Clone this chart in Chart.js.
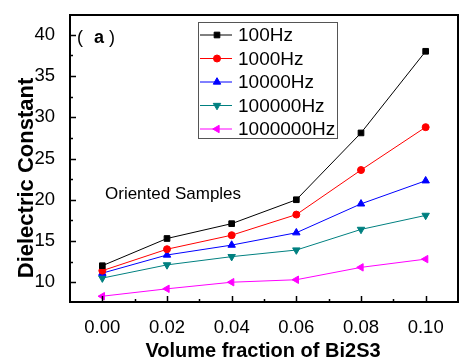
<!DOCTYPE html>
<html>
<head>
<meta charset="utf-8">
<script src="https://cdn.jsdelivr.net/npm/chart.js@4"></script>
<style>
  html, body { margin: 0; padding: 0; background: #fff; }
  #wrap { width: 459px; height: 360px; }
</style>
</head>
<body>
<div id="wrap"><canvas id="myChart" width="459" height="360"></canvas></div>
<script>
// x values: volume fraction of Bi2S3
const fractions = [0.0, 0.02, 0.04, 0.06, 0.08, 0.1];
// dielectric constant per frequency
const hz100 = [12.0, 15.3, 17.1, 20.0, 28.1, 38.0];
const hz1000 = [11.4, 14.0, 15.7, 18.2, 23.6, 28.8];
const hz10000 = [11.1, 13.3, 14.5, 16.0, 19.5, 22.3];
const hz100000 = [10.5, 12.1, 13.1, 13.9, 16.4, 18.1];
const hz1000000 = [8.3, 9.2, 10.0, 10.3, 11.8, 12.8];
const seriesNames = ["100Hz", "1000Hz", "10000Hz", "100000Hz", "1000000Hz"];
const xTicks = [0.0, 0.02, 0.04, 0.06, 0.08, 0.1];
const yTicks = [10, 15, 20, 25, 30, 35, 40];
const xTitle = "Volume fraction of Bi2S3";
const yTitle = "Dielectric Constant";

const FONT = "'Liberation Sans', Arial, sans-serif";

function makeSet(label, values, color, style, rot, r) {
  return {
    label: label,
    data: fractions.map((x, i) => ({ x: x, y: values[i] })),
    borderColor: color,
    backgroundColor: color,
    borderWidth: 1,
    pointStyle: style,
    pointRotation: rot,
    pointRadius: r,
    pointBorderWidth: 1,
  };
}

// frame, inward ticks, legend box, titles, annotations
const decor = {
  id: "decor",
  afterDraw(chart) {
    const ctx = chart.ctx;
    const a = chart.chartArea;
    const xs = chart.scales.x;
    const ys = chart.scales.y;
    ctx.save();
    ctx.strokeStyle = "#000";
    ctx.lineWidth = 2;
    ctx.strokeRect(a.left, a.top, a.right - a.left, a.bottom - a.top);

    ctx.lineWidth = 1.5;
    ctx.beginPath();
    for (let v = 0; v <= 0.1001; v += 0.01) {
      const px = Math.round(xs.getPixelForValue(v)) + 0.5;
      const major = Math.round(v * 100) % 2 === 0;
      const len = major ? 6 : 3;
      ctx.moveTo(px, a.bottom);
      ctx.lineTo(px, a.bottom - len);
    }
    for (let v = 10; v <= 40; v += 2.5) {
      const py = Math.round(ys.getPixelForValue(v)) + 0.5;
      const major = v % 5 === 0;
      const len = major ? 6 : 3;
      ctx.moveTo(a.left, py);
      ctx.lineTo(a.left + len, py);
    }
    ctx.stroke();

    // legend box
    const lx = 198, ly = 22, lw = 139, lh = 116;
    ctx.lineWidth = 1;
    ctx.strokeStyle = "#555";
    ctx.strokeRect(lx + 0.5, ly + 0.5, lw, lh);
    ctx.font = "19px " + FONT;
    ctx.textBaseline = "middle";
    chart.data.datasets.forEach((ds, i) => {
      const yy = ly + 13 + i * 23.5;
      ctx.strokeStyle = ds.borderColor;
      ctx.lineWidth = 1;
      ctx.beginPath();
      ctx.moveTo(lx + 2, yy);
      ctx.lineTo(lx + 34, yy);
      ctx.stroke();
      ctx.fillStyle = ds.backgroundColor;
      Chart.helpers.drawPoint(ctx, {
        pointStyle: ds.pointStyle,
        rotation: ds.pointRotation,
        radius: ds.pointRadius,
        borderWidth: 1,
      }, lx + 19, yy);
      ctx.fillStyle = "#000";
      ctx.fillText(seriesNames[i], lx + 40, yy + 1);
    });

    // panel label
    ctx.fillStyle = "#000";
    ctx.textBaseline = "alphabetic";
    ctx.font = "18px " + FONT;
    ctx.fillText("(", 77, 43);
    ctx.fillText(")", 109, 43);
    ctx.font = "bold 18px " + FONT;
    ctx.fillText("a", 94, 43);

    ctx.font = "17px " + FONT;
    ctx.fillText("Oriented Samples", 105, 199);

    // axis titles
    ctx.font = "bold 20px " + FONT;
    ctx.textAlign = "center";
    ctx.fillText(xTitle, 263, 357);
    ctx.translate(33, 178);
    ctx.rotate(-Math.PI / 2);
    ctx.font = "bold 22px " + FONT;
    ctx.fillText(yTitle, 0, 0);
    ctx.restore();
  },
};

const cfg = {
  type: "line",
  data: {
    datasets: [
      makeSet(seriesNames[0], hz100, "#000000", "rect", 0, 4),
      makeSet(seriesNames[1], hz1000, "#ff0000", "circle", 0, 3.5),
      makeSet(seriesNames[2], hz10000, "#0000ff", "triangle", 0, 4.3),
      makeSet(seriesNames[3], hz100000, "#008080", "triangle", 180, 4.3),
      makeSet(seriesNames[4], hz1000000, "#ff00ff", "triangle", -90, 4.3),
    ],
  },
  options: {
    responsive: false,
    animation: false,
    layout: { autoPadding: false, padding: { top: 15, right: 1, left: 0, bottom: 0 } },
    plugins: {
      legend: { display: false },
      tooltip: { enabled: false },
    },
    scales: {
      x: {
        type: "linear",
        min: -0.01,
        max: 0.11,
        afterBuildTicks: (s) => { s.ticks = xTicks.map((v) => ({ value: v })); },
        afterFit: (s) => { s.height = 58; s.paddingLeft = 0; s.paddingRight = 0; },
        grid: { display: false },
        border: { display: false },
        ticks: {
          color: "#000",
          font: { family: FONT, size: 18.5 },
          padding: 7,
          callback: (v) => v.toFixed(2),
          maxRotation: 0,
        },
      },
      y: {
        min: 7.6,
        max: 42.4,
        afterBuildTicks: (s) => { s.ticks = yTicks.map((v) => ({ value: v })); },
        afterFit: (s) => { s.width = 70; s.paddingTop = 0; s.paddingBottom = 0; },
        grid: { display: false },
        border: { display: false },
        ticks: {
          color: "#000",
          font: { family: FONT, size: 18.5 },
          padding: 7,
        },
      },
    },
  },
  plugins: [decor],
};

new Chart(document.getElementById("myChart"), cfg);
</script>
</body>
</html>
